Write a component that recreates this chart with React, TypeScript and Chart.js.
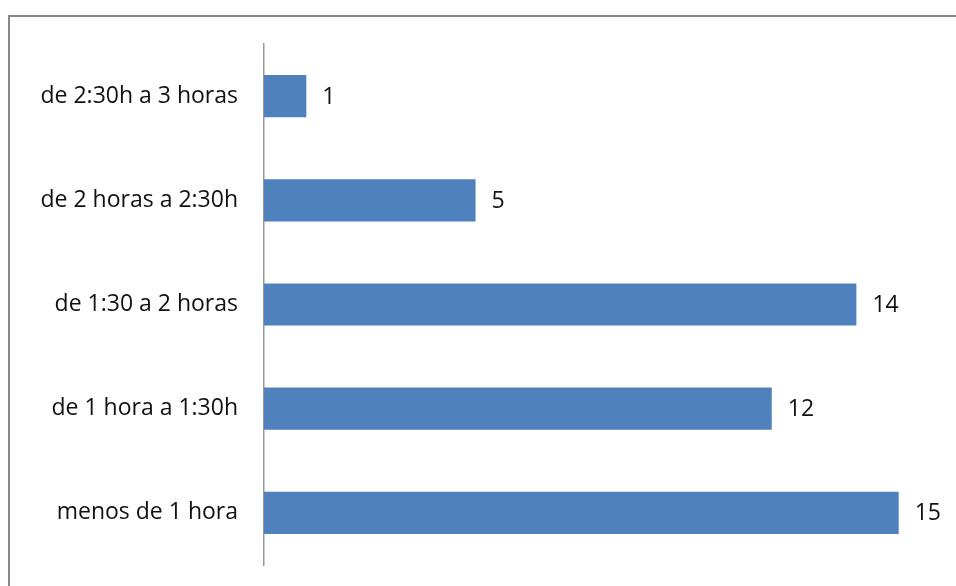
import React, { useEffect, useRef } from "react";
import { Chart, registerables } from "chart.js";

Chart.register(...registerables);

const categories = [
  "de 2:30h a 3 horas",
  "de 2 horas a 2:30h",
  "de 1:30 a 2 horas",
  "de 1 hora a 1:30h",
  "menos de 1 hora",
];
const values = [1, 5, 14, 12, 15];

const FONT = "'Open Sans', sans-serif";
const SIZE = 23;

const valueLabels = {
  id: "valueLabels",
  afterDatasetsDraw(chart: any) {
    const ctx = chart.ctx;
    const meta = chart.getDatasetMeta(0);
    ctx.save();
    ctx.font = `${SIZE}px ${FONT}`;
    ctx.fillStyle = "#111";
    ctx.textAlign = "left";
    ctx.textBaseline = "middle";
    meta.data.forEach((bar: any, i: number) => {
      ctx.fillText(String(values[i]), bar.x + 16, bar.y + 1);
    });
    ctx.restore();
  },
};

export default function App() {
  const ref = useRef<HTMLCanvasElement>(null);
  useEffect(() => {
    if (!ref.current) return;
    const chart = new Chart(ref.current, {
      type: "bar",
      data: {
        labels: categories,
        datasets: [
          {
            data: values,
            backgroundColor: "#4F81BD",
            borderWidth: 0,
            barPercentage: 0.405,
            categoryPercentage: 1,
          },
        ],
      },
      options: {
        indexAxis: "y",
        animation: false,
        responsive: false,
        maintainAspectRatio: false,
        layout: { padding: { left: 0, top: 44, right: 15, bottom: 21 } },
        plugins: { legend: { display: false }, tooltip: { enabled: false } },
        scales: {
          x: { display: false, min: 0, max: 16 },
          y: {
            afterFit: (s: any) => {
              s.width = 264;
              s.paddingTop = 0;
              s.paddingBottom = 0;
            },
            grid: { display: false, drawTicks: false },
            border: { display: true, color: "#999", width: 1.5 },
            ticks: {
              color: "#111",
              padding: 26,
              font: { family: FONT, size: SIZE },
            },
          },
        },
      },
      plugins: [valueLabels],
    });
    return () => chart.destroy();
  }, []);
  return (
    <div style={{ position: "fixed", left: 0, top: 0, width: 956, height: 586, background: "#fff" }}>
      <div
        style={{
          position: "absolute",
          left: 8,
          top: 15,
          width: 1000,
          height: 700,
          borderTop: "2px solid #888",
          borderLeft: "2px solid #888",
        }}
      />
      <canvas ref={ref} width={956} height={586} style={{ position: "absolute", left: 0, top: 0 }} />
    </div>
  );
}
